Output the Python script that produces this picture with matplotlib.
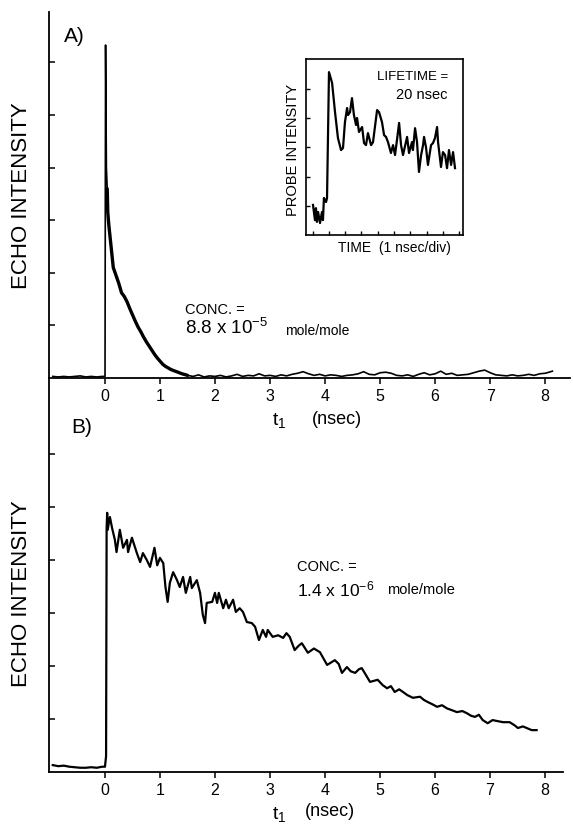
import matplotlib
matplotlib.use("Agg")
import matplotlib.pyplot as plt

plt.rcParams['font.family'] = ['Liberation Sans', 'DejaVu Sans']
plt.rcParams['mathtext.fontset'] = 'custom'
plt.rcParams['mathtext.rm'] = 'Liberation Sans'
plt.rcParams['mathtext.default'] = 'regular'

# panel A: echo decay, conc 8.8e-5
a_t = [-0.95, -0.85, -0.75, -0.65, -0.55, -0.45, -0.35, -0.25, -0.15, -0.05, 0.0,
       0.01, 0.025, 0.04, 0.05, 0.07, 0.10, 0.13, 0.15, 0.20, 0.25, 0.30, 0.35,
       0.40, 0.45, 0.50, 0.55, 0.60, 0.65, 0.70, 0.75, 0.80, 0.85, 0.90, 0.95,
       1.00, 1.05, 1.10, 1.15, 1.20, 1.30, 1.40, 1.50,
       1.6, 1.7, 1.8, 1.9, 2.0, 2.1, 2.2, 2.3, 2.4, 2.5, 2.6, 2.7, 2.8, 2.9,
       3.0, 3.1, 3.2, 3.3, 3.4, 3.5, 3.6, 3.7, 3.8, 3.9, 4.0, 4.1, 4.2, 4.3,
       4.4, 4.5, 4.6, 4.7, 4.8, 4.9, 5.0, 5.1, 5.2, 5.3, 5.4, 5.5, 5.6, 5.7,
       5.8, 5.9, 6.0, 6.1, 6.2, 6.3, 6.4, 6.5, 6.6, 6.7, 6.8, 6.9, 7.0, 7.1,
       7.2, 7.3, 7.4, 7.5, 7.6, 7.7, 7.8, 7.9, 8.0, 8.1, 8.13]
a_y = [0.03, 0.02, 0.03, 0.02, 0.03, 0.04, 0.02, 0.03, 0.02, 0.03, 0.03,
       6.33, 4.0, 3.6, 3.15, 2.9, 2.6, 2.3, 2.1, 1.95, 1.8, 1.62, 1.55,
       1.45, 1.32, 1.2, 1.08, 0.97, 0.88, 0.78, 0.69, 0.61, 0.53, 0.45, 0.38,
       0.32, 0.26, 0.22, 0.19, 0.16, 0.12, 0.08, 0.05,
       0.03, 0.06, 0.02, 0.04, 0.03, 0.05, 0.02, 0.04, 0.07, 0.03, 0.05, 0.04, 0.08, 0.04,
       0.05, 0.03, 0.06, 0.04, 0.07, 0.09, 0.12, 0.08, 0.05, 0.07, 0.04, 0.06, 0.05, 0.03,
       0.05, 0.06, 0.08, 0.12, 0.07, 0.06, 0.10, 0.11, 0.09, 0.05, 0.04, 0.06, 0.03, 0.07,
       0.10, 0.06, 0.08, 0.13, 0.07, 0.09, 0.05, 0.06, 0.07, 0.10, 0.13, 0.15, 0.10, 0.06,
       0.05, 0.04, 0.06, 0.04, 0.05, 0.07, 0.05, 0.08, 0.09, 0.12, 0.13]

# panel B: echo decay, conc 1.4e-6
b_t = [-0.95, -0.85, -0.75, -0.65, -0.55, -0.45, -0.35, -0.25, -0.15, -0.05, 0.0,
       0.02, 0.03, 0.04, 0.05, 0.07, 0.09, 0.13, 0.18, 0.21, 0.27, 0.33, 0.40,
       0.42, 0.49, 0.58, 0.64, 0.69, 0.76, 0.82, 0.90, 0.95, 1.00, 1.06, 1.10,
       1.14, 1.18, 1.24, 1.31, 1.36, 1.42, 1.47, 1.55, 1.58, 1.67, 1.73, 1.78,
       1.82, 1.85, 1.95, 2.00, 2.04, 2.07, 2.15, 2.20, 2.25, 2.33, 2.38, 2.45,
       2.51, 2.58, 2.67, 2.73, 2.80, 2.87, 2.93, 2.96, 3.05, 3.15, 3.24, 3.30, 3.36,
       3.45, 3.52, 3.58, 3.69, 3.80, 3.91, 4.04, 4.18, 4.25, 4.31, 4.40, 4.47, 4.55,
       4.62, 4.67, 4.74, 4.82, 4.96, 5.05, 5.13, 5.20, 5.27, 5.35, 5.42, 5.50,
       5.60, 5.73, 5.80, 5.87, 5.95, 6.04, 6.13, 6.22, 6.30, 6.40, 6.50, 6.58,
       6.66, 6.73, 6.80, 6.87, 6.96, 7.05, 7.14, 7.24, 7.36, 7.45, 7.51, 7.60,
       7.67, 7.76, 7.85]
b_y = [0.13, 0.11, 0.12, 0.10, 0.09, 0.08, 0.08, 0.09, 0.08, 0.10, 0.10,
       0.30, 4.60, 4.89, 4.57, 4.70, 4.81, 4.60, 4.38, 4.15, 4.57, 4.23, 4.38,
       4.15, 4.42, 4.13, 3.96, 4.13, 4.00, 3.87, 4.23, 3.90, 4.04, 3.94, 3.49,
       3.21, 3.57, 3.77, 3.62, 3.49, 3.68, 3.38, 3.68, 3.47, 3.62, 3.38, 2.96,
       2.81, 3.19, 3.21, 3.38, 3.19, 3.38, 3.09, 3.25, 3.09, 3.25, 3.02, 3.09,
       3.02, 2.83, 2.81, 2.74, 2.49, 2.68, 2.55, 2.68, 2.55, 2.58, 2.53, 2.62, 2.55,
       2.30, 2.38, 2.43, 2.25, 2.33, 2.26, 2.02, 2.11, 2.04, 1.87, 1.98, 1.90, 1.87,
       1.94, 1.96, 1.84, 1.70, 1.74, 1.64, 1.58, 1.62, 1.51, 1.56, 1.51, 1.45,
       1.40, 1.42, 1.36, 1.32, 1.28, 1.23, 1.26, 1.20, 1.17, 1.13, 1.15, 1.11,
       1.06, 1.04, 1.08, 0.98, 0.92, 0.98, 0.96, 0.94, 0.94, 0.88, 0.83, 0.86,
       0.83, 0.79, 0.79]

# inset: probe intensity vs time (divisions)
in_t = [0.43, 0.55, 0.61, 0.67, 0.74, 0.86, 0.98, 1.04, 1.10, 1.23, 1.29, 1.41,
        1.60, 1.78, 1.96, 2.15, 2.27, 2.39, 2.52, 2.58, 2.70, 2.82, 2.94, 3.07,
        3.13, 3.25, 3.44, 3.56, 3.68, 3.80, 3.99, 4.11, 4.36, 4.48, 4.66, 4.79,
        4.91, 5.03, 5.21, 5.34, 5.46, 5.58, 5.71, 5.83, 5.95, 6.20, 6.32, 6.50,
        6.56, 6.69, 6.81, 6.93, 7.06, 7.18, 7.24, 7.36, 7.48, 7.67, 7.79, 7.91,
        8.04, 8.10, 8.28, 8.40, 8.53, 8.65, 8.77, 8.90, 9.02, 9.14]
in_y = [1.03, 0.51, 0.92, 0.45, 0.79, 0.41, 0.79, 0.51, 1.27, 1.13, 1.27, 5.58,
        5.21, 4.21, 3.32, 2.91, 2.98, 3.87, 4.35, 4.11, 4.21, 4.69, 4.11, 3.77,
        4.01, 3.53, 3.70, 3.15, 3.08, 3.49, 3.08, 3.18, 4.28, 4.21, 3.87, 3.42,
        3.36, 3.18, 2.81, 3.08, 2.74, 3.25, 3.84, 3.08, 2.74, 3.36, 2.81, 3.18,
        2.91, 3.66, 3.18, 2.16, 2.74, 3.08, 3.36, 3.01, 2.40, 3.08, 3.15, 3.32,
        3.70, 3.18, 2.33, 2.84, 2.74, 2.29, 2.91, 2.40, 2.84, 2.29]

W, H = 573, 831
fig = plt.figure(figsize=(W / 100, H / 100), dpi=100)


def box(l, t, r, b):
    return [l / W, 1 - b / H, (r - l) / W, (b - t) / H]


def txt(x, y, s, **kw):
    fig.text(x / W, 1 - y / H, s, **kw)


def style(ax):
    ax.patch.set_visible(False)
    for s in ['top', 'right']:
        ax.spines[s].set_visible(False)
    for s in ['left', 'bottom']:
        ax.spines[s].set_linewidth(1.3)
    ax.tick_params(axis='x', direction='out', length=4, width=1.1, pad=4, labelsize=11.5)
    ax.tick_params(axis='y', direction='in', length=4, width=1.1, labelleft=False)
    ax.set_xticks(range(0, 9))
    ax.set_yticks(range(1, 7))


axA = fig.add_axes(box(49, 12, 570, 378))
axA.plot(a_t, a_y, color='black', lw=1.2)
axA.plot(a_t[13:43], a_y[13:43], color='black', lw=2.4, solid_capstyle='round')
axA.set_xlim(-1.018, 8.45)
axA.set_ylim(0, 366 / 52.6)
style(axA)

axB = fig.add_axes(box(49, 378, 563, 772))
axB.plot(b_t, b_y, color='black', lw=1.6)
axB.set_xlim(-1.018, 8.33)
axB.set_ylim(0, 394 / 53)
style(axB)

axI = fig.add_axes(box(306, 59, 463, 235))
axI.plot(in_t, in_y, color='black', lw=1.6)
axI.set_xlim(0, 9.63)
axI.set_ylim(0, 6.03)
for s in axI.spines.values():
    s.set_linewidth(1.2)
axI.set_xticks([0.4 + i for i in range(10)])
axI.set_yticks(range(1, 6))
axI.tick_params(direction='in', length=3, width=1, labelbottom=False, labelleft=False)

# labels
txt(22, 196, 'ECHO INTENSITY', rotation=90, ha='center', va='center', fontsize=16)
txt(22, 594, 'ECHO INTENSITY', rotation=90, ha='center', va='center', fontsize=16)
txt(64, 37, 'A)', ha='left', va='center', fontsize=15)
txt(71, 427, 'B)', ha='left', va='center', fontsize=15)
txt(279, 421, 't$_{1}$', ha='center', va='center', fontsize=14)
txt(312, 419, '(nsec)', ha='left', va='center', fontsize=13)
txt(279, 815, 't$_{1}$', ha='center', va='center', fontsize=14)
txt(305, 811, '(nsec)', ha='left', va='center', fontsize=13)

txt(185, 310, 'CONC. =', ha='left', va='center', fontsize=10.5)
txt(185, 334, '8.8 x 10$^{-5}$', ha='left', va='baseline', fontsize=13.5)
txt(285, 331, 'mole/mole', ha='left', va='center', fontsize=10)

txt(297, 567, 'CONC. =', ha='left', va='center', fontsize=10.5)
txt(297, 596, '1.4 x 10$^{-6}$', ha='left', va='baseline', fontsize=12.5)
txt(387, 590, 'mole/mole', ha='left', va='center', fontsize=10.5)

txt(448, 77, 'LIFETIME =', ha='right', va='center', fontsize=9.5)
txt(448, 95, '20 nsec', ha='right', va='center', fontsize=10.5)
txt(293, 150, 'PROBE INTENSITY', rotation=90, ha='center', va='center', fontsize=10.5)
txt(394, 248, 'TIME  (1 nsec/div)', ha='center', va='center', fontsize=10)

fig.savefig('out.png', dpi=100)
